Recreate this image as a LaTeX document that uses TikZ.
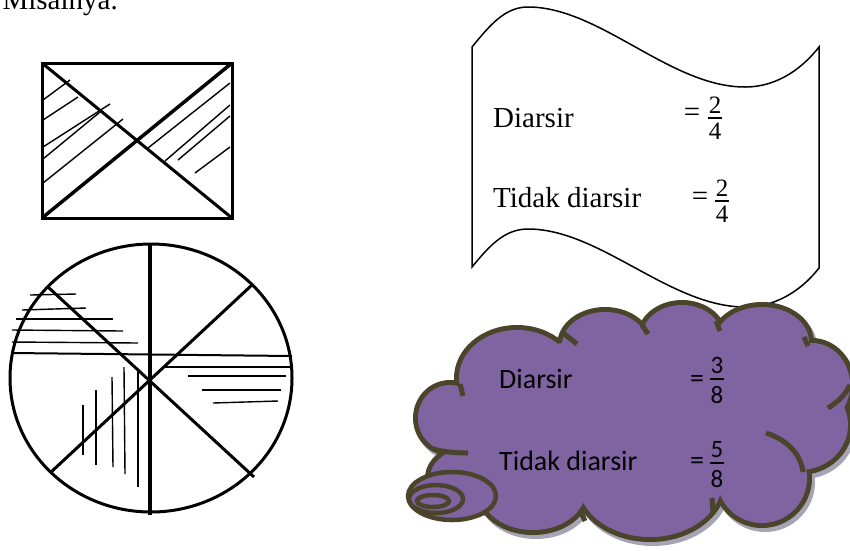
\documentclass[tikz,border=0pt]{standalone}
\usepackage{fontspec}
\setmainfont{Liberation Serif}
\newfontfamily\carlito{Carlito}
\begin{document}
\begin{tikzpicture}[x=1pt,y=-1pt,
  thickline/.style={line width=3pt},
  hatch/.style={line width=1.4pt},
  boxtxt/.style={font=\fontsize{29}{33}\selectfont, anchor=base west, inner sep=0pt},
  boxeq/.style={font=\fontsize{29}{33}\selectfont, inner sep=0pt},
  boxdig/.style={font=\fontsize{25}{27}\selectfont, inner sep=0pt},
  cldtxt/.style={font=\carlito\fontsize{28}{32}\selectfont, anchor=base west, inner sep=0pt},
  cldeq/.style={font=\carlito\fontsize{28}{32}\selectfont, inner sep=0pt},
  clddig/.style={font=\carlito\fontsize{25}{27}\selectfont, inner sep=0pt},
  fracbar/.style={line width=1.8pt},
  cloudline/.style={draw=cloudedge, line width=5pt},
]
\definecolor{cloudfill}{HTML}{8064A2}
\definecolor{cloudedge}{HTML}{4A452A}
\definecolor{cloudshadow}{HTML}{A6A3B3}
\useasboundingbox (0,0) rectangle (850,550);

% top text (cut by the page edge)
\node[font=\fontsize{29}{33}\selectfont, anchor=base east, inner sep=0pt] (misal) at (118,9) {Misalnya.};

% ---------- rectangle ----------
\coordinate (r1) at (42,63);
\coordinate (r2) at (232,63);
\coordinate (r3) at (232,218);
\coordinate (r4) at (42,218);
\draw[thickline] (r1) rectangle (r3);
\draw[thickline] (r1) -- (r3);
\draw[line width=3.5pt] (r2) -- (r4);
\draw[hatch] (43,100) -- (70,80);
\draw[hatch] (43,120) -- (78,97);
\draw[hatch] (43,147) -- (110,104);
\draw[hatch] (43,159) -- (100,112);
\draw[hatch] (43,183) -- (123,119);
\draw[hatch] (148,148) -- (230,83);
\draw[hatch] (165,161) -- (230,105);
\draw[hatch] (178,160) -- (230,116);
\draw[hatch] (195,173) -- (230,147);

% ---------- circle ----------
\coordinate (cc) at (151,378);
\draw[thickline] (cc) ellipse [x radius=141pt, y radius=134pt];
\draw[line width=3.5pt] (150,244) -- (150,515);
\draw[thickline] (48,287) -- (254,477);
\draw[thickline] (253,284) -- (50,473);
\draw[line width=2pt] (12,353) -- (292,356);
\draw[hatch] (30,295) -- (76,294);
\draw[hatch] (22,310) -- (86,308);
\draw[hatch] (16,319) -- (113,319);
\draw[hatch] (12,330) -- (123,331);
\draw[hatch] (12,342) -- (138,343);
\draw[line width=2pt] (165,367) -- (290,367);
\draw[hatch] (188,376) -- (286,376);
\draw[hatch] (202,390) -- (281,390);
\draw[hatch] (213,403) -- (278,401);
\draw[hatch] (83,405) -- (83,455);
\draw[hatch] (96,390) -- (96,465);
\draw[hatch] (112,377) -- (113,467);
\draw[hatch] (124,367) -- (125,474);
\draw[hatch] (138,372) -- (138,487);

% ---------- wave box ----------
\draw[line width=1.5pt, fill=white]
  (472,47) .. controls (490,25) and (505,7) .. (528,7)
  .. controls (600,7) and (670,87) .. (745,87)
  .. controls (780,87) and (805,65) .. (819,47)
  -- (819,268)
  .. controls (805,286) and (780,307) .. (745,307)
  .. controls (670,307) and (600,229) .. (528,229)
  .. controls (505,229) and (490,245) .. (472,267) -- cycle;
\node[boxtxt] (bd) at (493,127) {Diarsir};
\node[boxtxt] (bt) at (493,207) {Tidak diarsir};
\node[boxeq] (be1) at (692,115) {=};
\node[boxeq] (be2) at (700,199) {=};
\node[boxdig, anchor=south] (bn1) at (715,114) {2};
\node[boxdig, anchor=north] (bdn1) at (715,123) {4};
\draw[fracbar] (708,118) -- (722,118);
\node[boxdig, anchor=south] (bn2) at (722,197) {2};
\node[boxdig, anchor=north] (bdn2) at (722,206) {4};
\draw[fracbar] (715,201) -- (729,201);

% ---------- cloud ----------
\def\bumps{450/418/32/33, 517/378/58/48, 605/345/43/33, 682/337/40/32,
  762/342/47/35, 812/385/38/42, 800/425/48/45, 762/478/45/45,
  650/482/72/55, 533/492/52/38, 470/478/40/30}
\def\fillers{630/420/160/70, 700/372/70/35, 772/392/45/35, 478/432/35/32, 600/400/120/60}
\foreach \cx/\cy/\rx/\ry in \bumps
  \fill[cloudshadow] (\cx+3,\cy+4) ellipse [x radius=\rx pt+5pt, y radius=\ry pt+5pt];
\foreach \cx/\cy/\rx/\ry in \bumps
  \fill[cloudedge] (\cx,\cy) ellipse [x radius=\rx pt+5pt, y radius=\ry pt+5pt];
\foreach \cx/\cy/\rx/\ry in \bumps
  \fill[cloudfill] (\cx,\cy) ellipse [x radius=\rx pt, y radius=\ry pt];
\foreach \cx/\cy/\rx/\ry in \fillers
  \fill[cloudfill] (\cx,\cy) ellipse [x radius=\rx pt, y radius=\ry pt];
% inner arcs of the cloud outline
\draw[cloudline] (433,449) .. controls (445,452) and (455,453) .. (468,453);
\draw[cloudline] (460,384) -- (463,396);
\draw[cloudline] (563,333) -- (577,344);
\draw[cloudline] (642,325) -- (648,334);
\draw[cloudline] (716,321) -- (720,331);
\draw[cloudline] (804,337) -- (808,346);
\draw[cloudline] (850,385) .. controls (845,395) and (838,402) .. (828,408);
\draw[cloudline] (766,433) .. controls (788,440) and (801,455) .. (803,472);
\draw[cloudline] (712,498) -- (713,512);
\draw[cloudline] (580,510) -- (585,521);
% small bubbles
\draw[cloudline, line width=4.5pt, fill=cloudfill] (452,496) ellipse [x radius=44pt, y radius=24pt];
\draw[cloudline, line width=4.5pt, fill=cloudfill] (436,499) ellipse [x radius=27pt, y radius=14pt];
\draw[cloudline, line width=4.5pt, fill=cloudfill] (433,501) ellipse [x radius=16pt, y radius=6pt];

\node[cldtxt] (cd) at (499,388) {Diarsir};
\node[cldtxt] (ct) at (499,470) {Tidak diarsir};
\node[cldeq] (ce1) at (697,381) {=};
\node[cldeq] (ce2) at (697,463) {=};
\node[clddig, anchor=south] (cn1) at (717,374) {3};
\node[clddig, anchor=north] (cdn1) at (717,386) {8};
\draw[fracbar] (710,379) -- (724,379);
\node[clddig, anchor=south] (cn2) at (717,458) {5};
\draw[fracbar] (710,463) -- (724,463);
\node[clddig, anchor=north] (cdn2) at (717,470) {8};
\end{tikzpicture}
\end{document}
